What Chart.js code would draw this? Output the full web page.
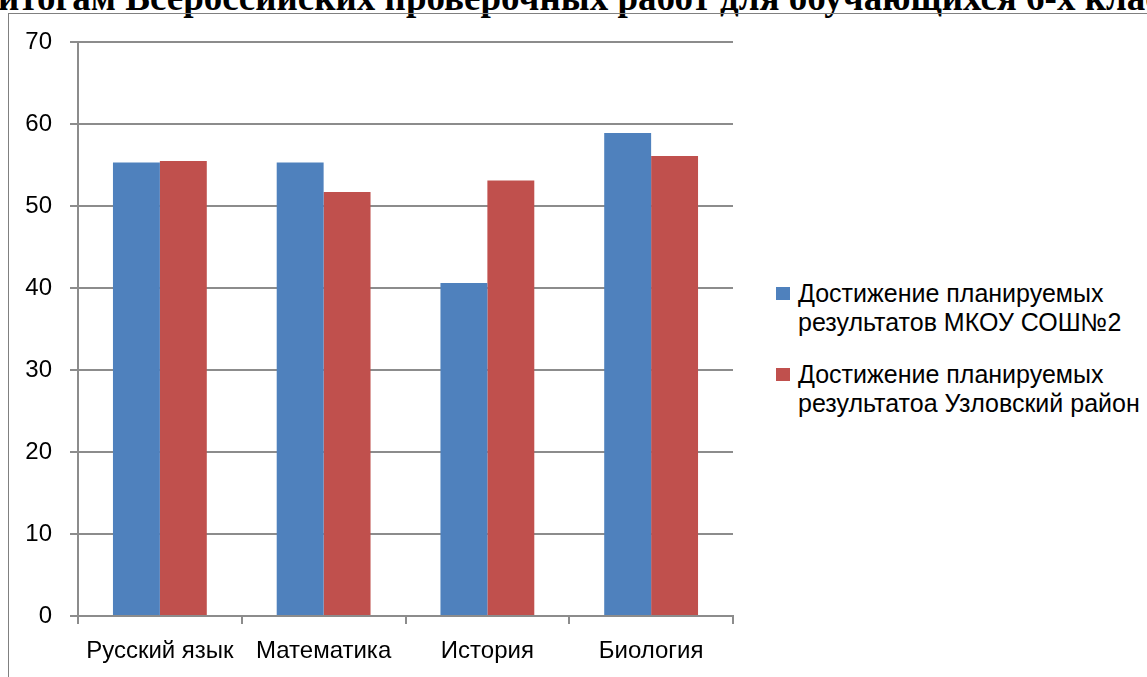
<!DOCTYPE html>
<html>
<head>
<meta charset="utf-8">
<script src="https://cdn.jsdelivr.net/npm/chart.js@4"></script>
<style>
  html, body { margin: 0; padding: 0; background: #fff; overflow: hidden; }
  body { width: 1147px; height: 677px; position: relative; }
  .title {
    position: absolute; left: -2px; top: -20px; white-space: nowrap;
    font: bold 37px/36px "Liberation Serif", serif; color: #000;
  }
  .frame {
    position: absolute; left: 8px; top: 13px; width: 1200px; height: 700px;
    border: 1px solid #808080; box-sizing: border-box;
  }
  #myChart { position: absolute; left: 0; top: 0; }
  .legend { position: absolute; left: 776px; top: 279px; font: 25px/29px "Liberation Sans", sans-serif; color: #000; }
  .legend .item { position: relative; padding-left: 22px; height: 81px; white-space: nowrap; }
  .legend .box { position: absolute; left: 0; top: 8px; width: 14px; height: 13px; }
</style>
</head>
<body>
<div class="title">итогам Всероссийских проверочных работ для обучающихся 6-х классов</div>
<div class="frame"></div>
<canvas id="myChart" width="760" height="677"></canvas>
<div class="legend"></div>
<script>
const categories = ['Русский язык', 'Математика', 'История', 'Биология'];
const schoolValues = [55.3, 55.3, 40.6, 58.9];
const districtValues = [55.5, 51.7, 53.1, 56.1];
const seriesLabels = [
  ['Достижение планируемых', 'результатов МКОУ СОШ№2'],
  ['Достижение планируемых', 'результатоа Узловский район']
];
const seriesColors = ['#4f81bd', '#c0504d'];
const yMax = 70;
const yStep = 10;

const gridGray = '#8c8c8c';
const ctx = document.querySelector('#myChart');

const myChart = new Chart(ctx, {
  type: 'bar',
  data: {
    labels: categories,
    datasets: [
      { label: seriesLabels[0].join(' '), data: schoolValues, backgroundColor: seriesColors[0] },
      { label: seriesLabels[1].join(' '), data: districtValues, backgroundColor: seriesColors[1] }
    ]
  },
  options: {
    responsive: false,
    animation: false,
    categoryPercentage: 0.573,
    barPercentage: 1.0,
    layout: { padding: { left: 0, right: 27, top: 42, bottom: 0 } },
    plugins: { legend: { display: false }, tooltip: { enabled: false } },
    scales: {
      x: {
        grid: { offset: true, drawOnChartArea: false, color: gridGray, lineWidth: 2, tickLength: 8 },
        border: { color: gridGray, width: 2 },
        ticks: { color: '#000', padding: 13, font: { family: 'Liberation Sans', size: 24 } },
        afterFit: s => { s.height = 61; }
      },
      y: {
        min: 0,
        max: yMax,
        grid: { color: gridGray, lineWidth: 2, tickLength: 8 },
        border: { color: gridGray, width: 2 },
        ticks: { stepSize: yStep, color: '#000', padding: 18, font: { family: 'Liberation Sans', size: 24 } },
        afterFit: s => { s.width = 78; }
      }
    }
  }
});

const legend = document.querySelector('.legend');
myChart.data.datasets.forEach((ds, i) => {
  const item = document.createElement('div');
  item.className = 'item';
  item.innerHTML = '<span class="box" style="background:' + ds.backgroundColor + '"></span>' + seriesLabels[i].join('<br>');
  legend.appendChild(item);
});
</script>
</body>
</html>
